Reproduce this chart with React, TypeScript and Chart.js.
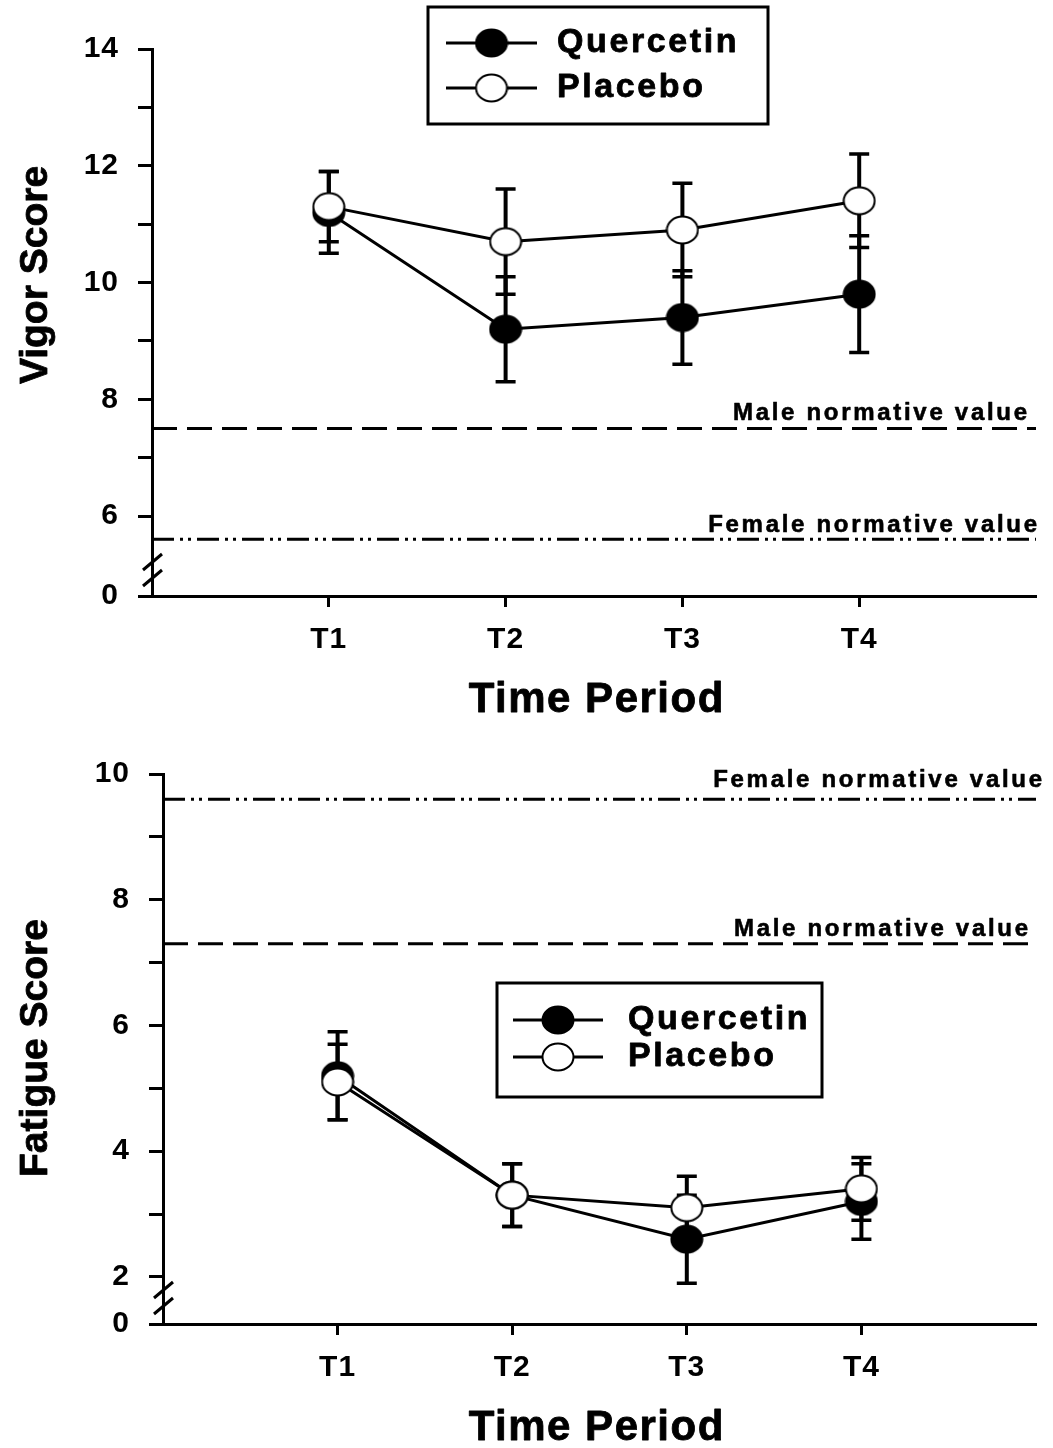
import React, { useEffect, useRef } from 'react';
import { Chart, registerables } from 'chart.js';

Chart.register(...registerables);

// ---------- data ----------
const timeLabels = ['T1', 'T2', 'T3', 'T4'];
const seriesNames = ['Quercetin', 'Placebo'];
const normLabels = ['Male normative value', 'Female normative value'];
const brokenAxisLabel = '0';

const vigorQuercetin = [11.2, 9.2, 9.4, 9.8];
const vigorQuercetinSD = [0.7, 0.9, 0.8, 1.0];
const vigorPlacebo = [11.3, 10.7, 10.9, 11.4];
const vigorPlaceboSD = [0.6, 0.9, 0.8, 0.8];
const vigorNorms = [7.5, 5.6]; // male, female
const vigorTicks = [6, 7, 8, 9, 10, 11, 12, 13, 14];
const vigorAxisMin = 4.63;

const fatigueQuercetin = [5.2, 3.3, 2.6, 3.2];
const fatigueQuercetinSD = [0.7, 0.5, 0.7, 0.6];
const fatiguePlacebo = [5.1, 3.3, 3.1, 3.4];
const fatiguePlaceboSD = [0.6, 0.5, 0.5, 0.5];
const fatigueNorms = [7.3, 9.6]; // male, female
const fatigueTicks = [2, 3, 4, 5, 6, 7, 8, 9, 10];
const fatigueAxisMin = 1.25;

const FONT = '"Liberation Sans", Arial, Helvetica, sans-serif';

function makeMarker(fill: string) {
  const c = document.createElement('canvas');
  c.width = 34;
  c.height = 30;
  const g = c.getContext('2d')!;
  g.beginPath();
  g.ellipse(17, 15, 15.5, 13.5, 0, 0, Math.PI * 2);
  g.fillStyle = fill;
  g.fill();
  g.lineWidth = 2;
  g.strokeStyle = '#000';
  g.stroke();
  return c;
}

function drawText(ctx: any, text: string, x: number, y: number, font: string, spacing: number, align: string, baseline: string, heavy = 0.7) {
  ctx.save();
  ctx.font = font;
  ctx.fillStyle = '#000';
  ctx.strokeStyle = '#000';
  ctx.lineWidth = heavy;
  ctx.lineJoin = 'round';
  ctx.textBaseline = baseline;
  try { ctx.letterSpacing = spacing + 'px'; } catch (e) {}
  const w = ctx.measureText(text).width - spacing;
  let sx = x;
  if (align === 'center') sx = x - w / 2;
  else if (align === 'right') sx = x - w;
  ctx.textAlign = 'left';
  ctx.fillText(text, sx, y);
  if (heavy > 0) ctx.strokeText(text, sx, y);
  ctx.restore();
}

function buildChart(canvas: HTMLCanvasElement, p: any) {
  const black = makeMarker('#000');
  const white = makeMarker('#fff');
  const markers = [black, white];
  const series = [
    { values: p.quercetin, sd: p.quercetinSD },
    { values: p.placebo, sd: p.placeboSD },
  ];
  const pts = (vals: number[]) => vals.map((v, i) => ({ x: i + 1, y: v }));
  const normLine = (v: number) => [{ x: 0, y: v }, { x: 5, y: v }];

  const decor = {
    id: 'decor',
    beforeDraw(chart: any) {
      // slightly heavier glyphs for the library-drawn tick labels
      try { chart.ctx.letterSpacing = '1px'; } catch (e) {}
    },
    beforeDatasetsDraw(chart: any) {
      const { ctx } = chart;
      const x = chart.scales.x;
      const y = chart.scales.y;
      ctx.save();
      ctx.strokeStyle = '#000';
      ctx.lineCap = 'butt';
      series.forEach((s) => {
        s.values.forEach((v: number, i: number) => {
          const px = x.getPixelForValue(i + 1);
          const top = y.getPixelForValue(v + s.sd[i]);
          const bot = y.getPixelForValue(v - s.sd[i]);
          ctx.lineWidth = 4;
          ctx.beginPath();
          ctx.moveTo(px, top);
          ctx.lineTo(px, bot);
          ctx.stroke();
          ctx.lineWidth = 3.5;
          ctx.beginPath();
          ctx.moveTo(px - 10, top);
          ctx.lineTo(px + 10, top);
          ctx.moveTo(px - 10, bot);
          ctx.lineTo(px + 10, bot);
          ctx.stroke();
        });
      });
      ctx.restore();
    },
    afterDraw(chart: any) {
      const { ctx, chartArea } = chart;
      const y = chart.scales.y;
      try { ctx.letterSpacing = '0px'; } catch (e) {}
      // axis break
      ctx.save();
      ctx.strokeStyle = '#000';
      ctx.lineWidth = 3;
      const L = chartArea.left, B = chartArea.bottom;
      ctx.beginPath();
      ctx.moveTo(L - 9, B - 10);
      ctx.lineTo(L + 10, B - 26);
      ctx.moveTo(L - 9, B - 26);
      ctx.lineTo(L + 10, B - 42);
      ctx.stroke();
      ctx.restore();

      // norm labels
      p.norms.forEach((v: number, i: number) => {
        const py = y.getPixelForValue(v) - p.normGap[i];
        drawText(ctx, normLabels[i], p.normRight[i], py, `bold 24px ${FONT}`, 2.7, 'right', 'alphabetic', 0.6);
      });

      // y title
      ctx.save();
      ctx.translate(47, p.yTitleY);
      ctx.rotate(-Math.PI / 2);
      drawText(ctx, p.yTitle, 0, 0, `bold 39px ${FONT}`, 0, 'center', 'alphabetic', 0.8);
      ctx.restore();

      // x title
      drawText(ctx, 'Time Period', 596, p.xTitleY, `bold 42px ${FONT}`, 1.5, 'center', 'middle', 0.8);

      // legend
      const lg = p.legend;
      ctx.save();
      ctx.fillStyle = '#fff';
      ctx.fillRect(lg.x, lg.y, lg.w, lg.h);
      ctx.strokeStyle = '#000';
      ctx.lineWidth = 3;
      ctx.strokeRect(lg.x, lg.y, lg.w, lg.h);
      seriesNames.forEach((name, i) => {
        const ry = lg.rows[i];
        ctx.lineWidth = 3;
        ctx.beginPath();
        ctx.moveTo(lg.lineX[0], ry);
        ctx.lineTo(lg.lineX[1], ry);
        ctx.stroke();
        const m = markers[i];
        const mx = (lg.lineX[0] + lg.lineX[1]) / 2;
        ctx.drawImage(m, mx - m.width / 2, ry - m.height / 2);
        drawText(ctx, name, lg.textX, ry, `bold 34px ${FONT}`, 2.6, 'left', 'middle', 0.8);
      });
      ctx.restore();
    },
  };

  const tickFont = { family: FONT, size: 30, weight: 'bold' as const };

  return new Chart(canvas, {
    type: 'line',
    data: {
      datasets: [
        {
          label: seriesNames[1],
          data: pts(p.placebo),
          borderColor: '#000',
          borderWidth: 3,
          pointStyle: white as any,
          pointRadius: 14,
          order: 1,
          tension: 0,
        },
        {
          label: seriesNames[0],
          data: pts(p.quercetin),
          borderColor: '#000',
          borderWidth: 3,
          pointStyle: black as any,
          pointRadius: 14,
          order: 2,
          tension: 0,
        },
        {
          label: normLabels[0],
          data: normLine(p.norms[0]),
          borderColor: '#000',
          borderWidth: 3,
          borderDash: [25, 10],
          pointRadius: 0,
          order: 3,
        },
        {
          label: normLabels[1],
          data: normLine(p.norms[1]),
          borderColor: '#000',
          borderWidth: 3,
          borderDash: [22, 6, 3, 5, 3, 6],
          pointRadius: 0,
          order: 4,
        },
      ],
    },
    options: {
      responsive: false,
      animation: false,
      events: [],
      layout: { padding: { top: p.padTop, right: p.padRight, bottom: 0, left: 0 } },
      plugins: { legend: { display: false }, tooltip: { enabled: false } },
      scales: {
        x: {
          type: 'linear',
          min: 0,
          max: 5,
          afterFit: (s: any) => { s.height = p.xAxisHeight; },
          afterBuildTicks: (s: any) => { s.ticks = timeLabels.map((_, i) => ({ value: i + 1 })); },
          ticks: {
            autoSkip: false,
            maxRotation: 0,
            font: tickFont,
            color: '#000',
            padding: 15,
            callback: (v: any) => timeLabels[Math.round(v) - 1] ?? '',
          },
          grid: { drawOnChartArea: false, drawTicks: true, tickLength: 11, tickWidth: 3, tickColor: '#000' },
          border: { display: true, color: '#000', width: 3 },
        },
        y: {
          type: 'linear',
          min: p.axisMin,
          max: p.yTicks[p.yTicks.length - 1],
          afterFit: (s: any) => { s.width = p.axisLeft; },
          afterBuildTicks: (s: any) => {
            s.ticks = [{ value: p.axisMin }, ...p.yTicks.map((v: number) => ({ value: v }))];
          },
          ticks: {
            autoSkip: false,
            font: tickFont,
            color: '#000',
            padding: 19,
            callback: (v: any) => (v === p.axisMin ? brokenAxisLabel : v % 2 === 0 ? String(v) : ''),
          },
          grid: { drawOnChartArea: false, drawTicks: true, tickLength: 14, tickWidth: 3, tickColor: '#000' },
          border: { display: true, color: '#000', width: 3 },
        },
      },
    },
    plugins: [decor],
  });
}

const topPanel = {
  quercetin: vigorQuercetin,
  quercetinSD: vigorQuercetinSD,
  placebo: vigorPlacebo,
  placeboSD: vigorPlaceboSD,
  norms: vigorNorms,
  yTicks: vigorTicks,
  axisMin: vigorAxisMin,
  yTitle: 'Vigor Score',
  padTop: 49,
  padRight: 11,
  axisLeft: 152,
  xAxisHeight: 139,
  yTitleY: 275,
  xTitleY: 700,
  normRight: [1027, 1037],
  normGap: [8, 7],
  legend: { x: 428, y: 7, w: 340, h: 117, rows: [43, 88], lineX: [446, 537], textX: 557 },
};

const bottomPanel = {
  quercetin: fatigueQuercetin,
  quercetinSD: fatigueQuercetinSD,
  placebo: fatiguePlacebo,
  placeboSD: fatiguePlaceboSD,
  norms: fatigueNorms,
  yTicks: fatigueTicks,
  axisMin: fatigueAxisMin,
  yTitle: 'Fatigue Score',
  padTop: 39,
  padRight: 10,
  axisLeft: 163,
  xAxisHeight: 124,
  yTitleY: 313,
  xTitleY: 693,
  normRight: [1028, 1042],
  normGap: [8, 12],
  legend: { x: 497, y: 248, w: 325, h: 114, rows: [285, 322], lineX: [513, 603], textX: 628 },
};

export default function App() {
  const topRef = useRef<HTMLCanvasElement>(null);
  const botRef = useRef<HTMLCanvasElement>(null);

  useEffect(() => {
    const c1 = buildChart(topRef.current!, topPanel);
    const c2 = buildChart(botRef.current!, bottomPanel);
    return () => {
      c1.destroy();
      c2.destroy();
    };
  }, []);

  return (
    <div style={{ position: 'absolute', left: 0, top: 0, width: 1053, height: 1448, background: '#fff' }}>
      <canvas ref={topRef} width={1053} height={735} style={{ position: 'absolute', left: 0, top: 0, width: 1053, height: 735 }} />
      <canvas ref={botRef} width={1053} height={713} style={{ position: 'absolute', left: 0, top: 735, width: 1053, height: 713 }} />
    </div>
  );
}
